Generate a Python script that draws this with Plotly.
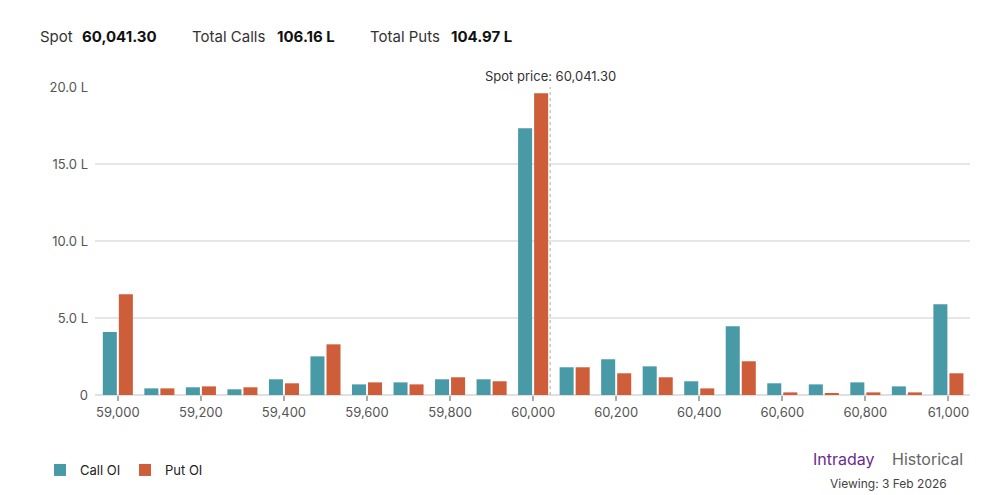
import plotly.graph_objects as go

strikes = [59000, 59100, 59200, 59300, 59400, 59500, 59600, 59700, 59800, 59900,
           60000, 60100, 60200, 60300, 60400, 60500, 60600, 60700, 60800, 60900, 61000]
call_oi = [4.09, 0.43, 0.50, 0.37, 1.02, 2.51, 0.69, 0.82, 1.02, 1.02,
           17.32, 1.80, 2.32, 1.86, 0.89, 4.46, 0.76, 0.69, 0.82, 0.56, 5.89]
put_oi = [6.54, 0.43, 0.56, 0.50, 0.76, 3.29, 0.82, 0.69, 1.15, 0.89,
          19.59, 1.80, 1.41, 1.15, 0.43, 2.19, 0.17, 0.11, 0.17, 0.17, 1.41]
spot = 60041.30
spot_label = "60,041.30"
total_calls = "106.16 L"
total_puts = "104.97 L"
y_tick_vals = [0, 5, 10, 15, 20]
y_tick_text = ["0", "5.0 L", "10.0 L", "15.0 L", "20.0 L"]

CALL_COLOR = "#489AA6"
PUT_COLOR = "#CE5D3A"
FONT = "Inter, Roboto, sans-serif"

OFF = 8  # page body margin
W, H = 1002 - 2 * OFF, 495 - OFF
ML = 95 - OFF
MR = W - (970 - OFF)
MT = 87 - OFF
MB = H - (395 - OFF)
PW = W - ML - MR
PH = H - MT - MB


def px(x):
    return (x - OFF - ML) / PW


def py(y):
    return (H - MB - (y - OFF)) / PH


fig = go.Figure()
fig.add_trace(go.Bar(x=strikes, y=call_oi, name="Call OI", marker_color=CALL_COLOR,
                     marker_line_width=0))
fig.add_trace(go.Bar(x=strikes, y=put_oi, name="Put OI", marker_color=PUT_COLOR,
                     marker_line_width=0))

fig.add_shape(type="line", xref="x", yref="paper", x0=spot, x1=spot, y0=0, y1=1,
              line=dict(color="#c8c8c8", width=1.5, dash="dot"), layer="above")

annotations = [
    dict(text="Spot price: " + spot_label, x=spot, xref="x", y=1.0, yref="paper",
         yanchor="bottom", xanchor="center", showarrow=False, yshift=1,
         font=dict(size=13, color="#333333", family=FONT)),
    dict(text="Spot", x=px(38), y=py(37), xanchor="left", yanchor="middle",
         font=dict(size=15, color="#333333", family=FONT)),
    dict(text="<b>" + spot_label + "</b>", x=px(80), y=py(37), xanchor="left", yanchor="middle",
         font=dict(size=15, color="#111111", family=FONT)),
    dict(text="Total Calls", x=px(190), y=py(37), xanchor="left", yanchor="middle",
         font=dict(size=15, color="#333333", family=FONT)),
    dict(text="<b>" + total_calls + "</b>", x=px(275), y=py(37), xanchor="left", yanchor="middle",
         font=dict(size=15, color="#111111", family=FONT)),
    dict(text="Total Puts", x=px(368), y=py(37), xanchor="left", yanchor="middle",
         font=dict(size=15, color="#333333", family=FONT)),
    dict(text="<b>" + total_puts + "</b>", x=px(449), y=py(37), xanchor="left", yanchor="middle",
         font=dict(size=15, color="#111111", family=FONT)),
    dict(text="Intraday", x=px(811), y=py(459), xanchor="left", yanchor="middle",
         font=dict(size=16, color="#6A2C91", family=FONT)),
    dict(text="Historical", x=px(890), y=py(459), xanchor="left", yanchor="middle",
         font=dict(size=16, color="#666666", family=FONT)),
    dict(text="Viewing: 3 Feb 2026", x=px(888), y=py(484), xanchor="center", yanchor="middle",
         font=dict(size=12, color="#444444", family=FONT)),
]
for a in annotations:
    a.setdefault("xref", "paper")
    a.setdefault("yref", "paper")
    a["showarrow"] = False

fig.update_layout(
    width=W, height=H,
    margin=dict(l=ML, r=MR, t=MT, b=MB, autoexpand=False),
    paper_bgcolor="white", plot_bgcolor="white",
    font=dict(family=FONT, color="#555555", size=13),
    barmode="group", bargap=0.228, bargroupgap=0.125,
    annotations=annotations,
    showlegend=True,
    legend=dict(orientation="h", xref="container", yref="container",
                x=(40 - OFF) / W, y=1 - (470 - OFF) / H, xanchor="left", yanchor="middle",
                font=dict(size=13, color="#222222", family=FONT), itemwidth=30,
                entrywidth=40, bgcolor="rgba(0,0,0,0)"),
    xaxis=dict(range=[58945, 61052], tickmode="linear", tick0=59000, dtick=200,
               tickformat=",d", showgrid=False, zeroline=False, showline=False,
               automargin=False,
               ticks="outside", ticklen=5, tickwidth=1.5, tickcolor="#aaaaaa",
               tickfont=dict(size=13, color="#555555", family=FONT)),
    yaxis=dict(range=[0, 20], tickmode="array", tickvals=y_tick_vals, ticktext=y_tick_text,
               showgrid=True, gridcolor="#e6e6e6", gridwidth=1.5, automargin=False,
               zeroline=True, zerolinecolor="#e0e0e0", zerolinewidth=2,
               ticks="", ticklabelstandoff=6,
               tickfont=dict(size=13, color="#555555", family=FONT)),
)

fig.write_html("out.html")
